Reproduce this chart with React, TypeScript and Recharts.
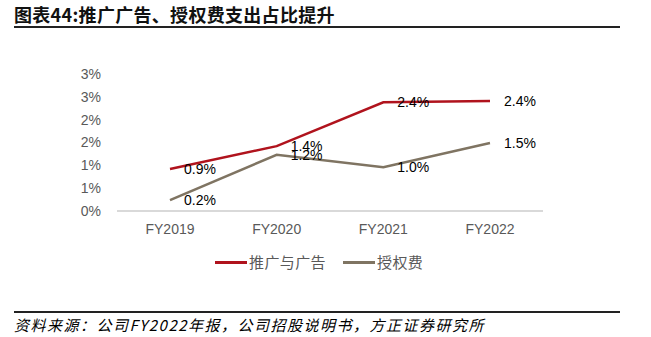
import React from 'react';
import { LineChart, Line, XAxis, YAxis, LabelList } from 'recharts';

const categories = ['FY2019', 'FY2020', 'FY2021', 'FY2022'];
const promoAd = [0.92, 1.42, 2.38, 2.41];
const licenseFee = [0.24, 1.23, 0.96, 1.49];
const yTicks = [0, 0.5, 1, 1.5, 2, 2.5, 3];
const seriesNames = ['推广与广告', '授权费'];
const colors = ['#B0131D', '#7F7462'];

const title = '图表44:推广广告、授权费支出占比提升';
const source = '资料来源：公司FY2022年报，公司招股说明书，方正证券研究所';

const data = categories.map((c, i) => ({ name: c, a: promoAd[i], b: licenseFee[i] }));

const labelFmt = (v: any) => `${Number(v).toFixed(1)}%`;

export default function App() {
  return (
    <div style={{ position: 'absolute', left: 0, top: 0, width: 651, height: 337, background: '#fff', overflow: 'hidden' }}>
      <div style={{ position: 'absolute', left: 14, top: 3, fontFamily: '"Noto Sans CJK SC", sans-serif', fontSize: 18, letterSpacing: 0.3, fontWeight: 'bold', color: '#111', whiteSpace: 'nowrap', lineHeight: '22px' }}>
        {title}
      </div>
      <div style={{ position: 'absolute', left: 14, top: 26, width: 606, height: 2, background: '#222' }} />
      <LineChart
        width={651}
        height={337}
        data={data}
        margin={{ top: 74, right: 108, bottom: 96, left: 57 }}
        style={{ position: 'absolute', left: 0, top: 0 }}
      >
        <XAxis
          dataKey="name"
          padding={{ left: 53, right: 53 }}
          axisLine={{ stroke: '#D9D9D9', strokeWidth: 2 }}
          tickLine={false}
          tick={{ fill: '#595959', fontSize: 14, fontFamily: '"Liberation Sans", Arial, sans-serif' }}
          tickMargin={7}
          height={30}
        />
        <YAxis
          domain={[0, 3]}
          ticks={yTicks}
          interval={0}
          axisLine={false}
          tickLine={false}
          width={60}
          tickMargin={10}
          tickFormatter={(v: number) => `${Math.round(v)}%`}
          tick={{ fill: '#595959', fontSize: 14, fontFamily: '"Liberation Sans", Arial, sans-serif' }}
        />
        <Line type="linear" dataKey="a" name={seriesNames[0]} stroke={colors[0]} strokeWidth={2.5} dot={false} isAnimationActive={false}>
          <LabelList dataKey="a" position="right" offset={14} formatter={labelFmt} fill="#000" fontSize={14} fontFamily='"Liberation Sans", Arial, sans-serif' />
        </Line>
        <Line type="linear" dataKey="b" name={seriesNames[1]} stroke={colors[1]} strokeWidth={2.5} dot={false} isAnimationActive={false}>
          <LabelList dataKey="b" position="right" offset={14} formatter={labelFmt} fill="#000" fontSize={14} fontFamily='"Liberation Sans", Arial, sans-serif' />
        </Line>
      </LineChart>
      <div style={{ position: 'absolute', left: 215, top: 252, display: 'flex', alignItems: 'center', fontFamily: '"Noto Sans CJK SC", sans-serif', fontSize: 15, letterSpacing: 0.4, color: '#595959', whiteSpace: 'nowrap', lineHeight: '20px' }}>
        {seriesNames.map((n, i) => (
          <div key={n} style={{ display: 'flex', alignItems: 'center', marginRight: i === 0 ? 17 : 0 }}>
            <div style={{ width: 32, height: 3, background: colors[i], marginRight: 2 }} />
            <span>{n}</span>
          </div>
        ))}
      </div>
      <div style={{ position: 'absolute', left: 14, top: 311, width: 606, height: 2, background: '#222' }} />
      <div style={{ position: 'absolute', left: 14, top: 315, fontFamily: '"Noto Sans CJK SC", sans-serif', fontSize: 15, letterSpacing: 1.5, fontStyle: 'italic', color: '#000', whiteSpace: 'nowrap', lineHeight: '20px' }}>
        {source}
      </div>
    </div>
  );
}
